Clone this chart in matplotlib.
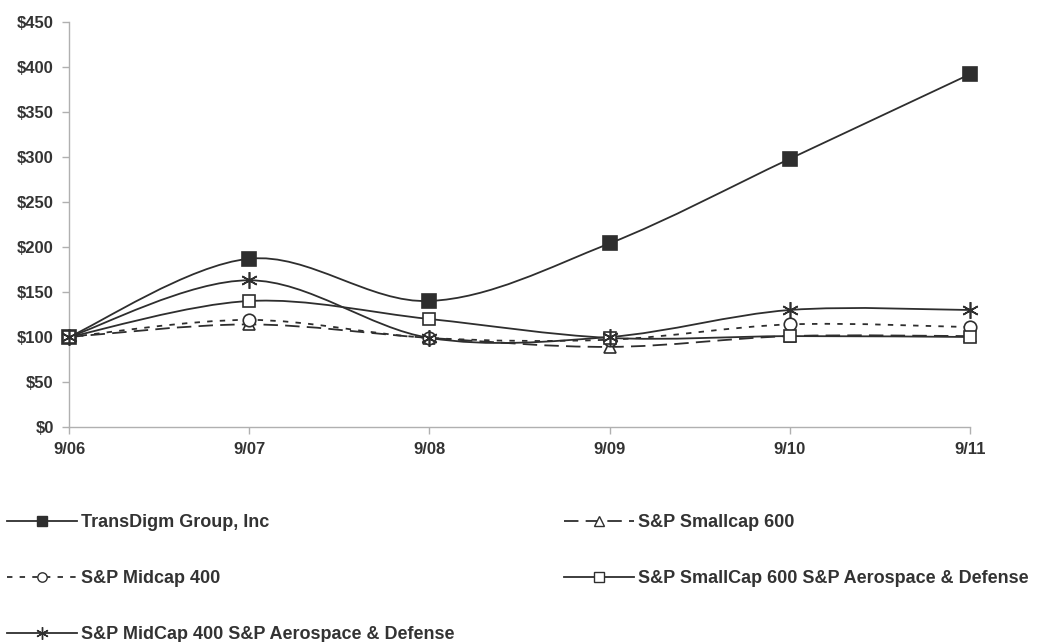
import matplotlib
matplotlib.use("Agg")
import matplotlib.pyplot as plt
from matplotlib.path import Path
from matplotlib.patches import PathPatch
from matplotlib.lines import Line2D

years = ["9/06", "9/07", "9/08", "9/09", "9/10", "9/11"]
transdigm = [100, 187, 140, 204, 298, 392]
smallcap600 = [100, 114, 99, 89, 101, 101]
midcap400 = [100, 119, 99, 97, 114, 111]
smallcap_ad = [100, 140, 120, 99, 101, 100]
midcap_ad = [100, 163, 99, 100, 130, 130]
yticks = [0, 50, 100, 150, 200, 250, 300, 350, 400, 450]

plt.rcParams['font.family'] = ['Liberation Sans', 'DejaVu Sans']
C = "#2e2e2e"

fig = plt.figure(figsize=(10.48, 6.42), dpi=100)
ax = fig.add_axes([69/1048, 1-427/642, (970-69)/1048, (427-22)/642])


def smooth_path(xs, ys):
    pts = list(zip(xs, ys))
    n = len(pts)
    verts = [pts[0]]
    codes = [Path.MOVETO]
    for i in range(n - 1):
        p0 = pts[i - 1] if i > 0 else pts[i]
        p1 = pts[i]
        p2 = pts[i + 1]
        p3 = pts[i + 2] if i + 2 < n else pts[i + 1]
        c1 = (p1[0] + (p2[0] - p0[0]) / 6, p1[1] + (p2[1] - p0[1]) / 6)
        c2 = (p2[0] - (p3[0] - p1[0]) / 6, p2[1] - (p3[1] - p1[1]) / 6)
        verts += [c1, c2, p2]
        codes += [Path.CURVE4] * 3
    return Path(verts, codes)


series = [
    ("TransDigm Group, Inc", transdigm, "-", "s", C, 10),
    ("S&P Smallcap 600", smallcap600, (0, (8, 4)), "^", "white", 9),
    ("S&P Midcap 400", midcap400, (0, (3, 4)), "o", "white", 9),
    ("S&P SmallCap 600 S&P Aerospace & Defense", smallcap_ad, "-", "s", "white", 9),
    ("S&P MidCap 400 S&P Aerospace & Defense", midcap_ad, "-", (6, 2, 0), C, 12),
]

xs = list(range(len(years)))
handles = {}
for name, vals, ls, mk, fc, ms in series:
    patch = PathPatch(smooth_path(xs, vals), facecolor="none", edgecolor=C,
                      lw=1.3, linestyle=ls, clip_on=False, zorder=2)
    ax.add_patch(patch)
    ax.plot(xs, vals, linestyle="none", marker=mk, markersize=ms,
            markerfacecolor=fc, markeredgecolor=C, markeredgewidth=1.2,
            clip_on=False, zorder=3)
    handles[name] = Line2D([], [], color=C, lw=1.3, linestyle=ls, marker=mk,
                           markersize=ms * 0.75, markerfacecolor=fc,
                           markeredgecolor=C, markeredgewidth=1.0)

ax.set_xlim(0, len(years) - 1)
ax.set_ylim(0, 450)
ax.set_xticks(xs)
ax.set_xticklabels(years)
ax.set_yticks(yticks)
ax.set_yticklabels([f"${v}" for v in yticks])
for s in ["top", "right"]:
    ax.spines[s].set_visible(False)
for s in ["left", "bottom"]:
    ax.spines[s].set_color("#b0b0b0")
    ax.spines[s].set_linewidth(1.0)
ax.tick_params(colors="#b0b0b0", labelcolor="#333333", length=5, width=1.0)
for lab in ax.get_xticklabels() + ax.get_yticklabels():
    lab.set_fontweight("bold")
    lab.set_fontsize(12)
ax.tick_params(axis="x", pad=6)
ax.tick_params(axis="y", pad=6)

names = [s[0] for s in series]
col1 = [names[0], names[2], names[4]]
col2 = [names[1], names[3]]
common = dict(frameon=False, handlelength=3.9, handletextpad=0.22,
              labelspacing=2.17, borderaxespad=0, borderpad=0,
              prop={"weight": "bold", "size": 13})
leg1 = fig.legend([handles[n] for n in col1], col1, loc="upper left",
                  bbox_to_anchor=(7/1048, 1-514/642), **common)
leg2 = fig.legend([handles[n] for n in col2], col2, loc="upper left",
                  bbox_to_anchor=(564/1048, 1-514/642), **common)
for leg in (leg1, leg2):
    for t in leg.get_texts():
        t.set_color("#333333")

fig.savefig("out.png", dpi=100)
